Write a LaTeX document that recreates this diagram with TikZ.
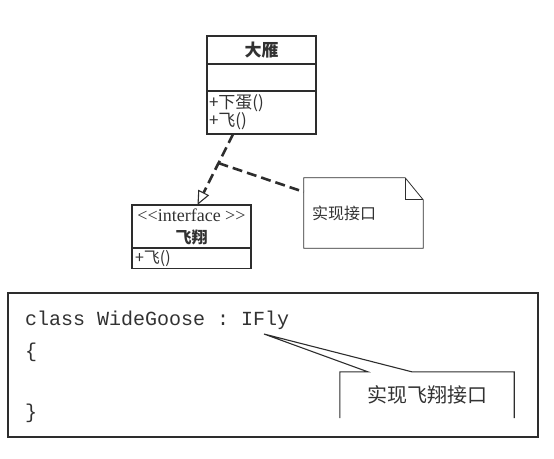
\documentclass[tikz,border=0pt]{standalone}
\usepackage{fontspec}
\setmainfont{Noto Sans CJK SC}[ItalicFeatures={FakeSlant=0.2}]
\setmonofont{Liberation Mono}
\newfontfamily\stereofont{Liberation Serif}
\definecolor{umlink}{RGB}{45,45,45}
\definecolor{umltext}{RGB}{50,50,50}
\usetikzlibrary{arrows.meta,positioning,calc}

\begin{document}
\begin{tikzpicture}[x=1pt,y=-1pt,
  umlrow/.style={draw=umlink,line width=1.2pt,inner sep=2pt,outer sep=0pt,text=umltext},
  realize/.style={draw=umlink,line width=2.6pt,dash pattern=on 10pt off 5pt},
  thinline/.style={draw=umlink,line width=0.8pt}]
  \useasboundingbox (0,0) rectangle (554,458);

  % Class: wild goose
  \node[umlrow,minimum width=109pt,minimum height=28pt,font=\fontsize{17}{18}\selectfont\bfseries] (gooseName) at (261.5,50) {大雁};
  \node[umlrow,minimum width=109pt,minimum height=27pt,below=0pt of gooseName] (gooseAttr) {};
  \node[umlrow,minimum width=109pt,minimum height=43pt,below=0pt of gooseAttr,inner ysep=3pt,
        text width=105pt,align=left,font=\fontsize{17}{17}\selectfont] (gooseOps) {+下蛋()\\+飞()\\[-4pt]};

  % Interface: fly
  \node[umlrow,minimum width=119pt,minimum height=43pt,align=center,font=\fontsize{16}{22}\selectfont] (flyHead) at (191.5,226.5)
    {{\stereofont\fontsize{18}{22}\selectfont <<interface >>}\\\textbf{飞翔}};
  \node[umlrow,minimum width=119pt,minimum height=20pt,below=0pt of flyHead,
        text width=113pt,align=left,font=\fontsize{16}{18}\selectfont\itshape] (flyOps) {+飞()};

  % Realization
  \coordinate (realStart) at ($(gooseOps.south west)!0.24!(gooseOps.south east)$);
  \coordinate (realEnd) at ($(flyHead.north west)!0.55!(flyHead.north east)$);
  \coordinate (realMid) at ($(realStart)!0.41!(realEnd)$);
  \draw[realize,-{Triangle[open,length=14pt,width=12pt,line width=1.1pt,sep=0pt]}] (realStart) -- (realEnd);

  % Note
  \node[text width=103pt,inner xsep=8pt,minimum width=119pt,minimum height=70pt,align=left,
        text=umltext,font=\fontsize{16}{19}\selectfont] (note) at (363.5,213) {实现接口};
  \draw[thinline] (note.north west) -- ($(note.north east)+(-18,0)$) -- ($(note.north east)+(0,22)$)
    -- (note.south east) -- (note.south west) -- cycle;
  \draw[thinline] ($(note.north east)+(-18,0)$) -- ($(note.north east)+(-18,22)$) -- ($(note.north east)+(0,22)$);
  \draw[realize] (realMid) -- ($(note.north west)!0.2!(note.south west)$);

  % Code
  \node[draw=umlink,line width=1.4pt,minimum width=530pt,minimum height=144pt] (codeBox) at (273,365) {};
  \node[anchor=west,inner sep=0pt,text=umltext,font=\fontsize{20}{24}\ttfamily] (decl) at (25,320) {class WideGoose : IFly};
  \node[anchor=west,inner sep=0pt,text=umltext,font=\fontsize{20}{24}\ttfamily] (openBrace) at (25,352) {\{};
  \node[anchor=west,inner sep=0pt,text=umltext,font=\fontsize{20}{24}\ttfamily] (closeBrace) at (25,413) {\}};

  % Callout
  \node[minimum width=174pt,minimum height=46pt,text=umltext,font=\fontsize{20}{24}\selectfont] (callout) at (427,395) {实现飞翔接口};
  \coordinate (calloutTip) at (264,334);
  \draw[umlink,line width=1.1pt] (callout.south west) -- (callout.north west) -- ($(callout.north west)+(28,0)$)
    -- (calloutTip) -- ($(callout.north west)+(72,0)$) -- (callout.north east) -- (callout.south east);
\end{tikzpicture}
\end{document}
